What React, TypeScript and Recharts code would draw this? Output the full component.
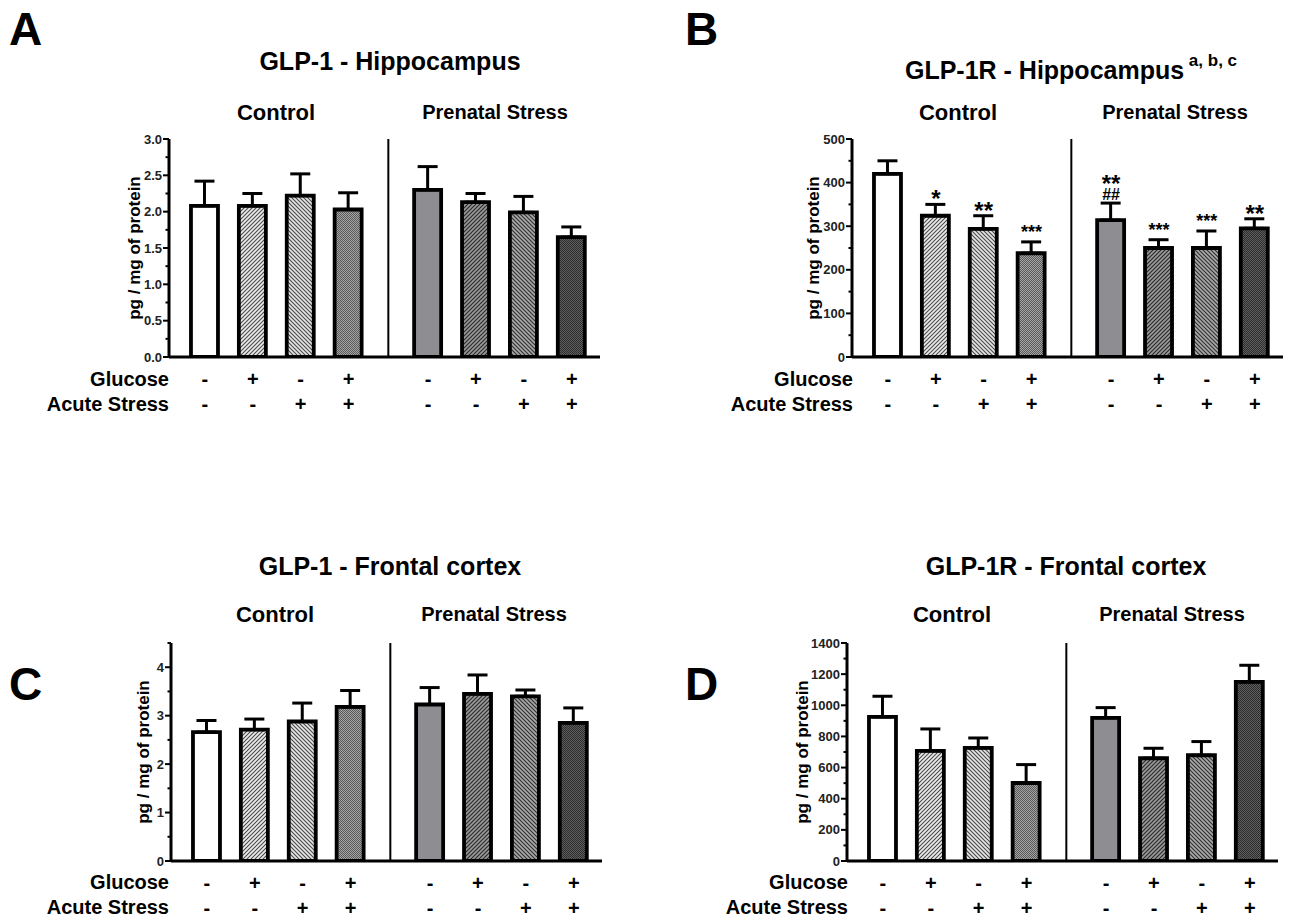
import { Bar, Cell, ComposedChart, ErrorBar, ReferenceLine, Scatter, XAxis, YAxis } from "recharts";

const FONT = '"Liberation Sans", Arial, Helvetica, sans-serif';

// treatment rows under the x axis
const glucose = ["-", "+", "-", "+", "-", "+", "-", "+"];
const acuteStress = ["-", "-", "+", "+", "-", "-", "+", "+"];

// A: GLP-1 hippocampus
const glp1HippMean = [2.08, 2.08, 2.22, 2.03, 2.3, 2.13, 1.99, 1.65];
const glp1HippSem = [0.34, 0.17, 0.3, 0.23, 0.32, 0.12, 0.22, 0.14];

// B: GLP-1R hippocampus
const glp1rHippMean = [420, 324, 294, 238, 314, 250, 250, 295];
const glp1rHippSem = [30, 26, 30, 26, 39, 19, 39, 22];
const glp1rHippSig = ["", "*", "**", "***", "**", "***", "***", "**"];
const glp1rHippHash = ["", "", "", "", "##", "", "", ""];

// C: GLP-1 frontal cortex
const glp1CortexMean = [2.66, 2.71, 2.88, 3.18, 3.23, 3.45, 3.4, 2.85];
const glp1CortexSem = [0.24, 0.22, 0.38, 0.34, 0.35, 0.39, 0.13, 0.31];

// D: GLP-1R frontal cortex
const glp1rCortexMean = [925, 707, 726, 501, 919, 660, 679, 1150];
const glp1rCortexSem = [133, 141, 64, 118, 66, 64, 88, 107];

const GROUP_GAP = 0.66;
const positions = glucose.map((_, i) => i + (i >= 4 ? GROUP_GAP : 0));
const divider = (positions[3] + positions[4]) / 2;

type Row = { pos: number; mean: number; err: number[]; top: number; sig: string; hash: string };

function buildRows(mean: number[], sem: number[], sig?: string[], hash?: string[]): Row[] {
  return mean.map((m, i) => ({
    pos: positions[i],
    mean: m,
    err: [0, sem[i]],
    top: m + sem[i],
    sig: sig ? sig[i] : "",
    hash: hash ? hash[i] : "",
  }));
}

function Patterns({ id }: { id: string }) {
  const fwd = "M-1,1 l2,-2 M0,4 l4,-4 M3,5 l2,-2";
  const back = "M-1,3 l2,2 M0,0 l4,4 M3,-1 l2,2";
  return (
    <defs>
      <pattern id={`${id}-2`} patternUnits="userSpaceOnUse" width="4" height="4">
        <rect width="4" height="4" fill="#ececec" />
        <path d={fwd} stroke="#4a4a4a" strokeWidth="1.1" />
      </pattern>
      <pattern id={`${id}-3`} patternUnits="userSpaceOnUse" width="4" height="4">
        <rect width="4" height="4" fill="#e4e4e4" />
        <path d={back} stroke="#4a4a4a" strokeWidth="1.1" />
      </pattern>
      <pattern id={`${id}-4`} patternUnits="userSpaceOnUse" width="2" height="2">
        <rect width="2" height="2" fill="#a4a4a4" />
        <rect width="1" height="1" fill="#5a5a5a" />
        <rect x="1" y="1" width="1" height="1" fill="#5a5a5a" />
      </pattern>
      <pattern id={`${id}-6`} patternUnits="userSpaceOnUse" width="4" height="4">
        <rect width="4" height="4" fill="#9a9a9a" />
        <path d={fwd} stroke="#2a2a2a" strokeWidth="1.2" />
      </pattern>
      <pattern id={`${id}-7`} patternUnits="userSpaceOnUse" width="4" height="4">
        <rect width="4" height="4" fill="#a8a8a8" />
        <path d={back} stroke="#333" strokeWidth="1.2" />
      </pattern>
      <pattern id={`${id}-8`} patternUnits="userSpaceOnUse" width="2" height="2">
        <rect width="2" height="2" fill="#5e5e5e" />
        <rect width="1" height="1" fill="#2c2c2c" />
        <rect x="1" y="1" width="1" height="1" fill="#2c2c2c" />
      </pattern>
    </defs>
  );
}

function fills(id: string) {
  return ["#ffffff", `url(#${id}-2)`, `url(#${id}-3)`, `url(#${id}-4)`, "#8e8e92", `url(#${id}-6)`, `url(#${id}-7)`, `url(#${id}-8)`];
}

function XTick({ x, y, payload }: any) {
  const i = positions.findIndex((p) => Math.abs(p - payload.value) < 1e-6);
  return (
    <g fontFamily={FONT} fontWeight="bold" fontSize={20} textAnchor="middle" fill="#000">
      <text x={x} y={y + 29}>{glucose[i]}</text>
      <text x={x} y={y + 54}>{acuteStress[i]}</text>
    </g>
  );
}

function makeYTick(major: number, decimals: number) {
  return ({ x, y, payload }: any) => {
    const v = payload.value;
    const isMajor = Math.abs(v / major - Math.round(v / major)) < 1e-6;
    return (
      <g>
        <line x1={x - (isMajor ? 6 : 3.5)} x2={x} y1={y} y2={y} stroke="#000" strokeWidth={2} />
        {isMajor && (
          <text x={x - 7} y={y} dy={4.5} textAnchor="end" fontSize={13} fontWeight="bold" fontFamily={FONT} fill="#222">
            {v.toFixed(decimals)}
          </text>
        )}
      </g>
    );
  };
}

function SigMark({ cx, cy, payload }: any) {
  if (!payload || !payload.sig) return <g />;
  const small = payload.sig.length === 3;
  if (payload.hash) {
    return (
      <text x={cx} y={cy - 11} fontSize={24} fontFamily={FONT} fontWeight="bold" textAnchor="middle" fill="#000">
        <tspan x={cx}>{payload.sig}</tspan>
        <tspan x={cx} dy={8} fontSize={16}>{payload.hash}</tspan>
      </text>
    );
  }
  return (
    <text x={cx} y={small ? cy - 3.5 : cy + 3} fontSize={small ? 18 : 24} fontFamily={FONT} fontWeight="bold" textAnchor="middle" fill="#000">
      {payload.sig}
    </text>
  );
}

type PanelProps = {
  id: string;
  rows: Row[];
  yMax: number;
  major: number;
  minor: number;
  decimals: number;
  axisX: number;
  plotTop: number;
  labelGap: number;
};

function Panel({ id, rows, yMax, major, minor, decimals, axisX, plotTop, labelGap }: PanelProps) {
  const yTicks: number[] = [];
  for (let v = 0; v <= yMax + 1e-9; v += minor) yTicks.push(+v.toFixed(4));
  const colors = fills(id);
  const hasSig = rows.some((r) => r.sig);
  return (
    <div style={{ position: "absolute", left: axisX - 168, top: plotTop - 20 }}>
      <ComposedChart width={605} height={304} data={rows} margin={{ top: 20, right: 6, bottom: 0, left: 0 }}>
        <Patterns id={id} />
        <XAxis
          type="number"
          dataKey="pos"
          domain={[-0.75, 8.25]}
          ticks={positions}
          interval={0}
          allowDataOverflow
          height={66}
          tickLine={false}
          tickSize={0}
          tickMargin={0}
          axisLine={{ stroke: "#000", strokeWidth: 3 }}
          tick={<XTick />}
        />
        <YAxis
          type="number"
          domain={[0, yMax]}
          ticks={yTicks}
          interval={0}
          width={168}
          allowDataOverflow
          tickLine={false}
          tickSize={0}
          tickMargin={0}
          axisLine={{ stroke: "#000", strokeWidth: 3 }}
          tick={makeYTick(major, decimals)}
          label={{
            value: "pg / mg of protein",
            angle: -90,
            position: "insideLeft",
            offset: 168 - labelGap,
            style: { textAnchor: "middle", fontFamily: FONT, fontWeight: "bold", fontSize: 17, fill: "#000" },
          }}
        />
        <ReferenceLine x={divider} stroke="#000" strokeWidth={2} />
        <Bar dataKey="mean" barSize={27} stroke="#000" strokeWidth={3.8} isAnimationActive={false}>
          {rows.map((_, i) => (
            <Cell key={i} fill={colors[i]} />
          ))}
          <ErrorBar dataKey="err" width={10} stroke="#000" strokeWidth={3} direction="y" />
        </Bar>
        {hasSig && <Scatter dataKey="top" shape={<SigMark />} isAnimationActive={false} />}
      </ComposedChart>
    </div>
  );
}

function Labels() {
  const t = { fontFamily: FONT, fontWeight: "bold" as const, fill: "#000" };
  return (
    <svg width={1290} height={917} style={{ position: "absolute", left: 0, top: 0, pointerEvents: "none" }}>
      <g {...t} fontSize={46}>
        <text x={9} y={45}>A</text>
        <text x={685} y={45}>B</text>
        <text x={9} y={700}>C</text>
        <text x={685} y={700}>D</text>
      </g>
      <g {...t} fontSize={25} textAnchor="middle">
        <text x={390} y={70}>GLP-1 - Hippocampus</text>
        <text x={1071} y={79}>
          GLP-1R - Hippocampus
          <tspan dy={-13} fontSize={17}> a, b, c</tspan>
        </text>
        <text x={390} y={575}>GLP-1 - Frontal cortex</text>
        <text x={1066} y={575}>GLP-1R - Frontal cortex</text>
      </g>
      <g {...t} fontSize={22} textAnchor="middle">
        <text x={276} y={120}>Control</text>
        <text x={958} y={120}>Control</text>
        <text x={275} y={622}>Control</text>
        <text x={952} y={622}>Control</text>
      </g>
      <g {...t} fontSize={20} textAnchor="middle">
        <text x={495} y={119}>Prenatal Stress</text>
        <text x={1175} y={119}>Prenatal Stress</text>
        <text x={494} y={621}>Prenatal Stress</text>
        <text x={1172} y={621}>Prenatal Stress</text>
      </g>
      <g {...t} fontSize={20} textAnchor="end">
        <text x={169} y={386}>Glucose</text>
        <text x={169} y={411}>Acute Stress</text>
        <text x={853} y={386}>Glucose</text>
        <text x={853} y={411}>Acute Stress</text>
        <text x={169} y={889}>Glucose</text>
        <text x={169} y={914}>Acute Stress</text>
        <text x={848} y={889}>Glucose</text>
        <text x={848} y={914}>Acute Stress</text>
      </g>
    </svg>
  );
}

export default function App() {
  return (
    <div style={{ position: "absolute", left: 0, top: 0, width: 1290, height: 917, background: "#fff" }}>
      <Panel id="pa" rows={buildRows(glp1HippMean, glp1HippSem)} yMax={3} major={0.5} minor={0.25} decimals={1} axisX={169} plotTop={139} labelGap={35} />
      <Panel
        id="pb"
        rows={buildRows(glp1rHippMean, glp1rHippSem, glp1rHippSig, glp1rHippHash)}
        yMax={500}
        major={100}
        minor={50}
        decimals={0}
        axisX={852}
        plotTop={139}
        labelGap={39}
      />
      <Panel id="pc" rows={buildRows(glp1CortexMean, glp1CortexSem)} yMax={4.5} major={1} minor={0.5} decimals={0} axisX={171} plotTop={643} labelGap={28} />
      <Panel id="pd" rows={buildRows(glp1rCortexMean, glp1rCortexSem)} yMax={1400} major={200} minor={100} decimals={0} axisX={847} plotTop={643} labelGap={45} />
      <Labels />
    </div>
  );
}
